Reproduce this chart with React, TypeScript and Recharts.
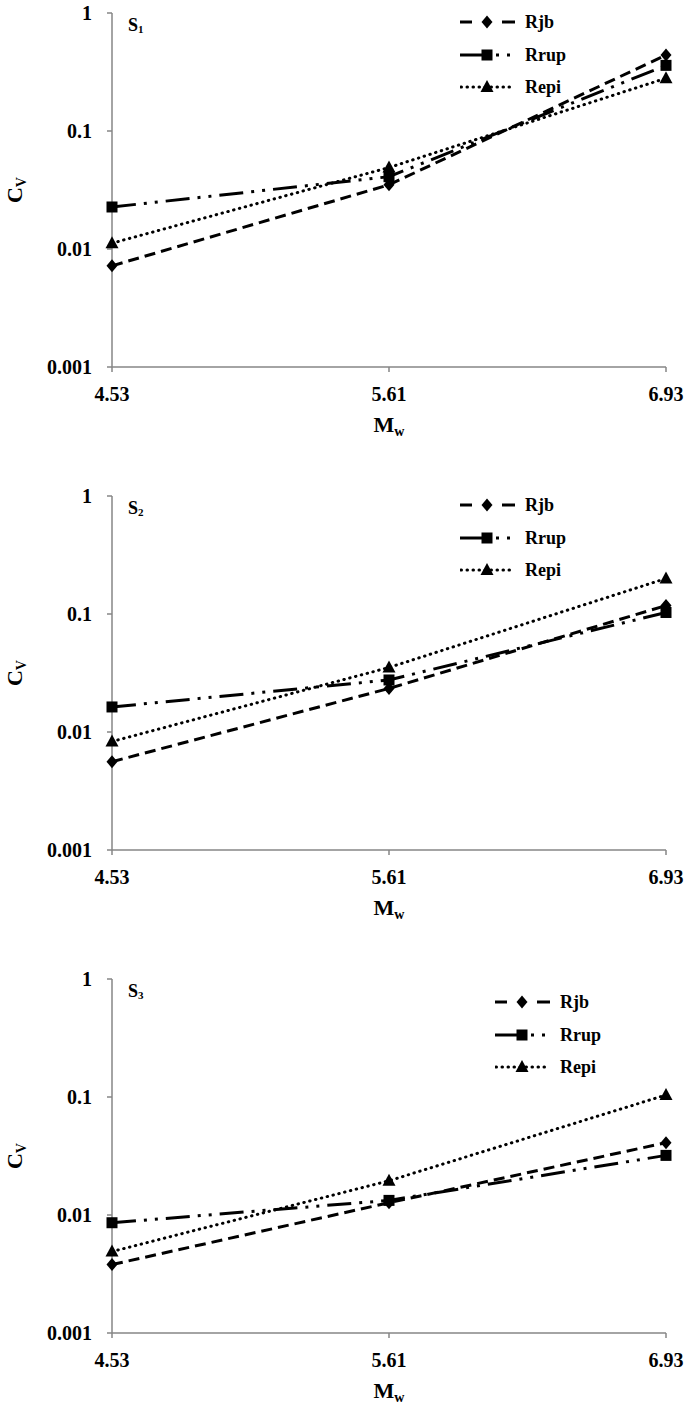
import React from "react";
import { LineChart, Line, XAxis, YAxis, Legend } from "recharts";

// magnitudes on the x axis (category axis, equally spaced)
const mwLabels = ["4.53", "5.61", "6.93"];

// C_V values
const s1Rjb = [0.0072, 0.035, 0.44];
const s1Rrup = [0.0227, 0.041, 0.36];
const s1Repi = [0.0112, 0.049, 0.28];

const s2Rjb = [0.0056, 0.0234, 0.118];
const s2Rrup = [0.0163, 0.0276, 0.103];
const s2Repi = [0.0083, 0.0352, 0.2];

const s3Rjb = [0.0038, 0.0127, 0.041];
const s3Rrup = [0.0086, 0.0133, 0.032];
const s3Repi = [0.0049, 0.0195, 0.104];

const cvTicks = [0.001, 0.01, 0.1, 1];
const seriesNames = ["Rjb", "Rrup", "Repi"];

const FONT = "'Liberation Serif', 'Times New Roman', serif";
const GREY = "#868686";

const DASH_RJB = "11 6";
const DASH_RRUP = "24 8 3 8 3 8";
const DASH_REPI = "0.5 5.5";

const Diamond = ({ cx, cy }: { cx: number; cy: number }) => (
  <polygon points={`${cx},${cy - 6.5} ${cx + 5.5},${cy} ${cx},${cy + 6.5} ${cx - 5.5},${cy}`} fill="#000" />
);
const Square = ({ cx, cy }: { cx: number; cy: number }) => (
  <rect x={cx - 5.5} y={cy - 5.5} width={11} height={11} fill="#000" />
);
const Triangle = ({ cx, cy }: { cx: number; cy: number }) => (
  <polygon points={`${cx},${cy - 7} ${cx + 6.5},${cy + 5} ${cx - 6.5},${cy + 5}`} fill="#000" />
);

const dotOf = (Shape: any, tag: string) => (p: any) =>
  <Shape key={`${tag}-${p.index}`} cx={p.cx} cy={p.cy} />;

function LegendBox() {
  const txt = { fontFamily: FONT, fontWeight: 700, fontSize: 18, fill: "#000" };
  return (
    <svg width={140} height={100}>
      <g transform="translate(0,14)">
        <line x1={0} y1={0} x2={12} y2={0} stroke="#000" strokeWidth={3} />
        <Diamond cx={27} cy={0} />
        <line x1={42} y1={0} x2={55} y2={0} stroke="#000" strokeWidth={3} />
        <text x={65} y={0} dominantBaseline="central" {...txt}>{seriesNames[0]}</text>
      </g>
      <g transform="translate(0,47)">
        <line x1={0} y1={0} x2={24} y2={0} stroke="#000" strokeWidth={3} />
        <Square cx={27} cy={0} />
        <rect x={36} y={-1.5} width={3} height={3} fill="#000" />
        <rect x={47} y={-1.5} width={3} height={3} fill="#000" />
        <text x={65} y={0} dominantBaseline="central" {...txt}>{seriesNames[1]}</text>
      </g>
      <g transform="translate(0,79)">
        <line x1={1} y1={0} x2={55} y2={0} stroke="#000" strokeWidth={3}
          strokeDasharray={DASH_REPI} strokeLinecap="round" />
        <Triangle cx={27} cy={0} />
        <text x={65} y={0} dominantBaseline="central" {...txt}>{seriesNames[2]}</text>
      </g>
    </svg>
  );
}

type PanelProps = {
  rjb: number[]; rrup: number[]; repi: number[];
  sub: string; height: number; bottom: number;
  legendLeft: number; legendTop: number;
};

function Panel({ rjb, rrup, repi, sub, height, bottom, legendLeft, legendTop }: PanelProps) {
  const data = mwLabels.map((mw, i) => ({ mw, Rjb: rjb[i], Rrup: rrup[i], Repi: repi[i] }));
  const tickStyle = { fill: "#000", fontSize: 20, fontWeight: 700, fontFamily: FONT };

  const yLabel = (props: any) => {
    const vb = props.viewBox;
    const cy = vb.y + vb.height / 2;
    return (
      <g>
        <text transform={`translate(22,${cy}) rotate(-90)`} textAnchor="middle"
          fontFamily={FONT} fontWeight={700} fontSize={22} fill="#000">
          C<tspan fontSize={14} dy={4}>V</tspan>
        </text>
        <text x={128} y={vb.y + 18} fontFamily={FONT} fontWeight={700} fontSize={18} fill="#000">
          S<tspan fontSize={11} dy={2}>{sub}</tspan>
        </text>
      </g>
    );
  };

  const xLabel = (props: any) => {
    const vb = props.viewBox;
    return (
      <text x={vb.x + vb.width / 2} y={vb.y + 65} textAnchor="middle"
        fontFamily={FONT} fontWeight={700} fontSize={22} fill="#000">
        M<tspan fontSize={14} dy={4}>w</tspan>
      </text>
    );
  };

  return (
    <LineChart width={685} height={height} data={data}
      margin={{ top: 13, right: 19, left: 0, bottom }}>
      <XAxis dataKey="mw" type="category" height={60}
        axisLine={{ stroke: GREY, strokeWidth: 1.5 }}
        tickLine={{ stroke: GREY, strokeWidth: 1.5 }}
        tickSize={5} tickMargin={15} tick={tickStyle}
        label={{ content: xLabel }} />
      <YAxis type="number" scale="log" domain={[0.001, 1]} ticks={cvTicks}
        allowDataOverflow width={112} interval={0}
        tickFormatter={(v: number) => String(v)}
        axisLine={{ stroke: GREY, strokeWidth: 1.5 }}
        tickLine={{ stroke: GREY, strokeWidth: 1.5 }}
        tickSize={5} tickMargin={15} tick={tickStyle}
        label={{ content: yLabel }} />
      <Legend layout="horizontal" verticalAlign="middle" content={() => <LegendBox />}
        wrapperStyle={{ position: "absolute", left: legendLeft, top: legendTop, width: 140 }} />
      <Line type="linear" dataKey="Rjb" stroke="#000" strokeWidth={3}
        strokeDasharray={DASH_RJB} dot={dotOf(Diamond, "d")} activeDot={false}
        isAnimationActive={false} />
      <Line type="linear" dataKey="Rrup" stroke="#000" strokeWidth={3}
        strokeDasharray={DASH_RRUP} dot={dotOf(Square, "s")} activeDot={false}
        isAnimationActive={false} />
      <Line type="linear" dataKey="Repi" stroke="#000" strokeWidth={3}
        strokeDasharray={DASH_REPI} strokeLinecap="round" dot={dotOf(Triangle, "t")}
        activeDot={false} isAnimationActive={false} />
    </LineChart>
  );
}

export default function App() {
  return (
    <div style={{ position: "absolute", left: 0, top: 0, width: 685, height: 1414, background: "#fff" }}>
      <Panel rjb={s1Rjb} rrup={s1Rrup} repi={s1Repi} sub="1" height={483} bottom={56}
        legendLeft={460} legendTop={8} />
      <Panel rjb={s2Rjb} rrup={s2Rrup} repi={s2Repi} sub="2" height={483} bottom={56}
        legendLeft={460} legendTop={8} />
      <Panel rjb={s3Rjb} rrup={s3Rrup} repi={s3Repi} sub="3" height={448} bottom={21}
        legendLeft={495} legendTop={22} />
    </div>
  );
}
